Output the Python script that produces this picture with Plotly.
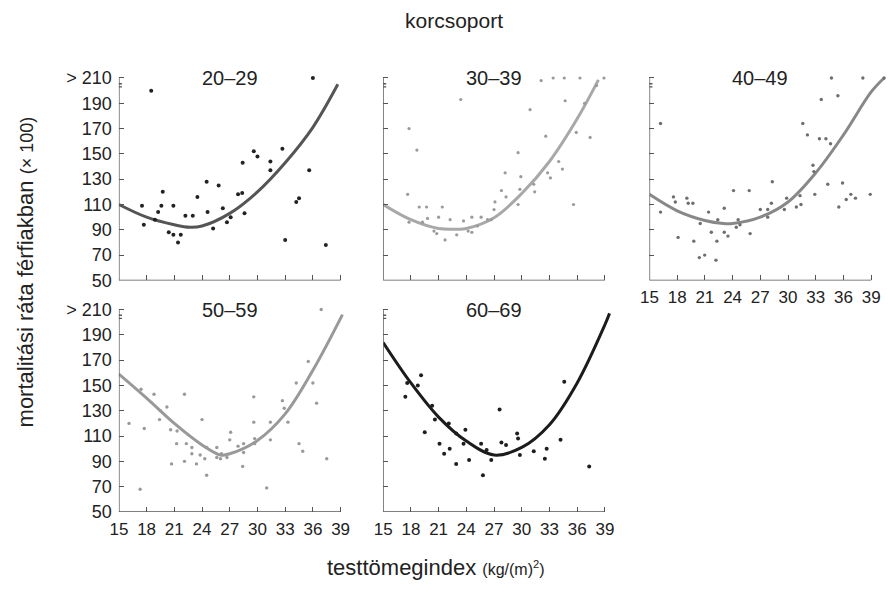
import plotly.graph_objects as go

# ---------------- data ----------------
panel_titles = ["20–29", "30–39", "40–49", "50–59", "60–69"]
x_ticks = [15, 18, 21, 24, 27, 30, 33, 36, 39]
y_ticks = [50, 70, 90, 110, 130, 150, 170, 190, 210]
y_tick_labels = ["50", "70", "90", "110", "130", "150", "170", "190", "> 210"]

bmi_20_29 = [18.5, 17.5, 17.7, 18.9, 19.25, 19.6, 19.75, 20.4, 20.9, 20.9, 21.4, 21.7, 22.2, 23.0, 23.5,
             24.5, 24.6, 25.2, 25.8, 26.25, 26.7, 27.1, 27.9, 28.35, 28.4, 28.6, 29.6, 30.0, 31.4, 31.4,
             32.7, 33.0, 34.2, 34.5, 35.6, 36.0, 37.4]
rate_20_29 = [200, 109, 94, 98, 104, 109, 120, 88, 109, 86, 80, 86, 101, 101, 116,
              128, 104, 91, 125, 107, 96, 100, 118, 119, 143, 103, 152, 148, 144, 137,
              154, 82, 112, 115, 137, 210, 78]
fit_x_20_29 = [15, 18, 21, 22.7, 24, 27, 30, 33, 36, 38.7]
fit_y_20_29 = [110, 100, 94, 92, 93, 103, 120, 143, 171, 205]

bmi_30_39 = [17.8, 17.65, 18.65, 17.8, 18.9, 19.7, 19.8, 19.25, 20.5, 20.8, 21.0, 21.4, 21.7, 22.25, 22.96,
             23.4, 23.7, 24.2, 24.6, 24.6, 25.2, 25.6, 26.3, 26.7, 27.0, 27.1, 27.8, 28.2, 28.3, 29.6,
             29.6, 29.8, 29.9, 30.9, 31.3, 31.4, 32.1, 32.6, 32.8, 33.1, 33.4, 34.0, 34.4, 34.6, 34.7,
             35.6, 35.9, 36.3, 36.8, 37.4, 38.1, 38.9]
rate_30_39 = [170, 118, 153, 96, 108, 108, 99, 96, 89, 87, 100, 108, 82, 98, 86,
              193, 97, 89, 88, 100, 93, 100, 98, 98, 106, 112, 121, 135, 116, 151,
              110, 122, 132, 185, 126, 120, 208, 164, 135, 131, 210, 144, 138, 210, 192,
              110, 167, 210, 190, 163, 204, 210]
fit_x_30_39 = [15, 18, 21, 23, 24, 27, 30, 33, 36, 38.3]
fit_y_30_39 = [110, 98, 91, 90.5, 91, 99.5, 118.7, 144, 177.7, 208.5]

bmi_40_49 = [16.2, 16.2, 17.6, 17.8, 18.1, 19.05, 19.2, 19.7, 19.8, 20.4, 20.5, 20.98, 21.4, 21.7, 22.2,
             22.3, 22.4, 23.1, 23.1, 23.5, 24.1, 24.4, 24.6, 24.8, 25.8, 25.9, 27.0, 27.8, 27.8, 28.2,
             28.3, 29.6, 29.85, 30.9, 31.4, 31.3, 31.6, 32.1, 32.7, 32.8, 32.9, 33.4, 33.6, 34.1, 34.3,
             34.6, 34.7, 35.4, 35.5, 35.9, 36.3, 36.8, 37.3, 38.1, 38.9, 40.4]
rate_40_49 = [174, 104, 116, 112, 84, 115, 111, 111, 81, 68, 95, 70, 104, 88, 66,
              81, 98, 107, 88, 85, 121, 92, 98, 94, 121, 87, 106, 100, 106, 111,
              128, 106, 115, 108, 110, 117, 174, 165, 141, 136, 118, 162, 193, 162, 126,
              158, 210, 196, 108, 127, 114, 118, 115, 210, 118, 210]
fit_x_40_49 = [15, 18, 21, 23, 24, 27, 30, 33, 36, 39, 40.4]
fit_y_40_49 = [118, 105, 97.4, 95, 95, 100, 112, 135, 165, 199, 210]

bmi_50_59 = [16.1, 17.4, 17.75, 17.3, 18.8, 19.5, 19.4, 20.2, 20.6, 20.7, 21.3, 21.25, 22.1, 22.1, 22.3,
             22.9, 22.9, 23.4, 23.8, 24.0, 24.3, 24.5, 24.5, 25.6, 25.6, 26.0, 26.1, 26.7, 27.1, 27.0,
             27.9, 28.5, 28.5, 28.4, 29.6, 29.6, 29.7, 29.7, 31.0, 31.4, 31.4, 32.7, 32.9, 33.3, 34.2,
             34.5, 34.9, 35.5, 36.0, 36.4, 36.9, 37.5]
rate_50_59 = [120, 147, 116, 68, 143, 130, 123, 133, 115, 88, 114, 104, 143, 90, 104,
              101, 96, 88, 95, 123, 92, 101, 79, 101, 93, 92, 96, 93, 113, 107,
              102, 97, 104, 86, 141, 121, 108, 104, 69, 121, 107, 138, 132, 121, 152,
              104, 98, 169, 152, 136, 210, 92]
fit_x_50_59 = [15, 18, 21, 24, 26, 27, 30, 33, 36, 39.2]
fit_y_50_59 = [159, 140, 120, 103, 95, 96, 106.5, 127.5, 162, 206]

bmi_60_69 = [17.4, 17.6, 18.75, 19.1, 19.5, 20.3, 20.6, 21.1, 21.6, 22.1, 22.2, 22.9, 22.9, 23.7, 23.9,
             24.3, 25.6, 25.8, 26.2, 26.7, 27.6, 27.8, 28.3, 29.5, 29.6, 29.8, 31.3, 32.5, 32.7, 34.2,
             34.6, 37.3]
rate_60_69 = [141, 152, 150, 158, 113, 134, 123, 104, 96, 120, 100, 112, 88, 104, 115,
              91, 104, 79, 99, 91, 131, 105, 103, 112, 108, 95, 98, 92, 100, 107,
              153, 86]
fit_x_60_69 = [15, 18, 21, 24, 27, 30, 33, 36, 39, 39.5]
fit_y_60_69 = [184, 152, 125, 106, 95, 101, 119, 152, 198, 207]

panels = [
    (bmi_20_29, rate_20_29, fit_x_20_29, fit_y_20_29),
    (bmi_30_39, rate_30_39, fit_x_30_39, fit_y_30_39),
    (bmi_40_49, rate_40_49, fit_x_40_49, fit_y_40_49),
    (bmi_50_59, rate_50_59, fit_x_50_59, fit_y_50_59),
    (bmi_60_69, rate_60_69, fit_x_60_69, fit_y_60_69),
]

# ---------------- styling ----------------
W, H = 888, 592
FONT = "Liberation Sans, Arial, Helvetica, sans-serif"
TXT = "#222222"
AXC = "#555555"
XTICK_SIZE = 17
YTICK_SIZE = 18
dot_colors = ["#222222", "#9a9a9a", "#6e6e6e", "#9a9a9a", "#1e1e1e"]
dot_sizes = [4, 3.2, 3.4, 3.4, 4]
line_colors = ["#555555", "#a8a8a8", "#888888", "#999999", "#1c1c1c"]

X_MIN, X_AX_END, X_MAX = 15, 39, 40.5
Y_MIN, Y_AX_END, Y_MAX = 50, 210, 213
PX_X = 224 / 24.0
PX_Y = 1.3
col_left = [111, 378, 647]        # pixel of x = 15
row_bottom = [282, 520]           # pixel of y = 50
grid_pos = [(0, 0), (0, 1), (0, 2), (1, 0), (1, 1)]
show_xlabels = [False, False, True, True, True]
show_ylabels = [True, False, False, True, False]

fig = go.Figure()
layout = dict(
    width=W, height=H,
    margin=dict(l=0, r=0, t=0, b=0),
    paper_bgcolor="white", plot_bgcolor="white",
    showlegend=False,
    font=dict(family=FONT, color=TXT, size=XTICK_SIZE),
)
shapes = []
annotations = []

for i, (bx, ry, fx, fy) in enumerate(panels):
    r, c = grid_pos[i]
    n = i + 1
    xa = "x" if n == 1 else f"x{n}"
    ya = "y" if n == 1 else f"y{n}"
    x0 = col_left[c]
    x1 = x0 + (X_MAX - X_MIN) * PX_X
    yb = row_bottom[r]
    yt = yb - (Y_MAX - Y_MIN) * PX_Y

    fig.add_trace(go.Scatter(
        x=fx, y=fy, mode="lines", xaxis=xa, yaxis=ya,
        line=dict(color=line_colors[i], width=3, shape="spline", smoothing=1.0),
        hoverinfo="skip"))
    fig.add_trace(go.Scatter(
        x=bx, y=ry, mode="markers", xaxis=xa, yaxis=ya, cliponaxis=False,
        marker=dict(color=dot_colors[i], size=dot_sizes[i], line=dict(width=0))))

    layout["xaxis" if n == 1 else f"xaxis{n}"] = dict(
        domain=[x0 / W, min(x1 / W, 1.0)], range=[X_MIN, X_MAX], anchor=ya,
        showline=False, showgrid=False, zeroline=False,
        ticks="inside", ticklen=5, tickwidth=1.3, tickcolor=AXC,
        tickvals=x_ticks, ticktext=[str(v) for v in x_ticks],
        showticklabels=show_xlabels[i], ticklabelstandoff=5,
        tickfont=dict(family=FONT, size=XTICK_SIZE, color=TXT), fixedrange=True)
    layout["yaxis" if n == 1 else f"yaxis{n}"] = dict(
        domain=[1 - yb / H, 1 - yt / H], range=[Y_MIN, Y_MAX], anchor=xa,
        showline=False, showgrid=False, zeroline=False,
        ticks="inside", ticklen=5, tickwidth=1.3, tickcolor=AXC,
        tickvals=y_ticks, ticktext=y_tick_labels,
        showticklabels=show_ylabels[i], ticklabelstandoff=6,
        tickfont=dict(family=FONT, size=YTICK_SIZE, color=TXT), fixedrange=True)

    # axis lines (ending at 39 and at the "> 210" tick)
    shapes.append(dict(type="line", xref=xa, yref=ya, x0=X_MIN, x1=X_AX_END, y0=Y_MIN, y1=Y_MIN,
                       line=dict(color=AXC, width=1.4), layer="above"))
    shapes.append(dict(type="line", xref=xa, yref=ya, x0=X_MIN, x1=X_MIN, y0=Y_MIN, y1=Y_AX_END,
                       line=dict(color=AXC, width=1.4), layer="above"))
    # axis break mark
    for yv in (203.0, 205.5):
        shapes.append(dict(type="line", xref=xa, yref=ya, x0=X_MIN - 0.33, x1=X_MIN + 0.33, y0=yv, y1=yv,
                           line=dict(color=AXC, width=1.4), layer="above"))

    # panel title
    annotations.append(dict(text=panel_titles[i], xref="paper", yref="paper",
                            x=(x0 + 112) / W, y=1 - (yb - 208) / H,
                            xanchor="center", yanchor="middle", showarrow=False,
                            font=dict(family=FONT, size=20, color=TXT)))

annotations.append(dict(text="korcsoport", xref="paper", yref="paper", x=450 / W, y=1 - 15 / H,
                        xanchor="center", yanchor="middle", showarrow=False,
                        font=dict(family=FONT, size=21, color=TXT)))
annotations.append(dict(text="testtömegindex <span style='font-size:16px'>(kg/(m)<sup>2</sup>)</span>",
                        xref="paper", yref="paper", x=431 / W, y=1 - 577 / H,
                        xanchor="center", yanchor="middle", showarrow=False,
                        font=dict(family=FONT, size=22, color=TXT)))
annotations.append(dict(text="mortalitási ráta férfiakban <span style='font-size:18px'>(× 100)</span>",
                        xref="paper", yref="paper", x=17 / W, y=1 - 273 / H, textangle=-90,
                        xanchor="center", yanchor="middle", showarrow=False,
                        font=dict(family=FONT, size=22, color=TXT)))

layout["shapes"] = shapes
layout["annotations"] = annotations
fig.update_layout(**layout)
fig.write_html("out.html")
